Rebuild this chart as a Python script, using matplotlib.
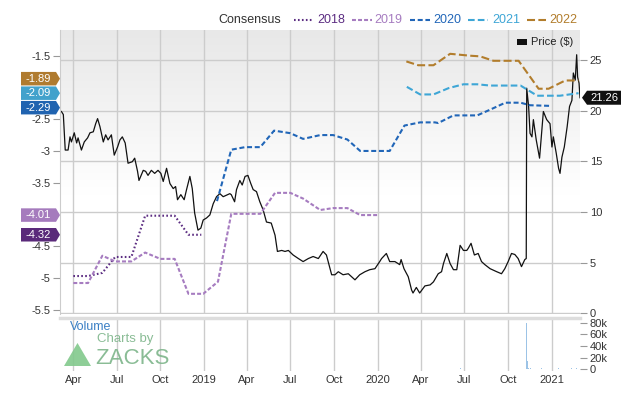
import matplotlib
matplotlib.use('Agg')
import matplotlib.pyplot as plt
from matplotlib.lines import Line2D
from matplotlib.patches import Polygon
import numpy as np
import pandas as pd

plt.rcParams['font.family'] = ['Liberation Sans', 'DejaVu Sans']

# ---- data ----
price_dates = [
    "2018-03-07", "2018-03-11", "2018-03-15", "2018-03-21", "2018-03-25", "2018-03-28", "2018-04-03", "2018-04-08",
    "2018-04-11", "2018-04-18", "2018-04-24", "2018-05-01", "2018-05-06", "2018-05-13", "2018-05-18", "2018-05-22",
    "2018-05-27", "2018-06-03", "2018-06-08", "2018-06-13", "2018-06-20", "2018-06-26", "2018-07-03", "2018-07-08",
    "2018-07-13", "2018-07-19", "2018-07-25", "2018-08-03", "2018-08-08", "2018-08-14", "2018-08-17", "2018-08-26",
    "2018-08-31", "2018-09-05", "2018-09-12", "2018-09-19", "2018-09-26", "2018-10-02", "2018-10-07", "2018-10-14",
    "2018-10-21", "2018-10-28", "2018-11-02", "2018-11-06", "2018-11-13", "2018-11-20", "2018-11-25", "2018-12-02",
    "2018-12-07", "2018-12-12", "2018-12-19", "2018-12-25", "2018-12-30", "2019-01-06", "2019-01-13", "2019-01-20",
    "2019-01-27", "2019-02-03", "2019-02-10", "2019-02-24", "2019-02-27", "2019-03-06", "2019-03-10", "2019-03-17",
    "2019-03-22", "2019-03-28", "2019-04-03", "2019-04-09", "2019-04-14", "2019-04-21", "2019-04-28", "2019-05-05",
    "2019-05-12", "2019-05-22", "2019-05-30", "2019-06-04", "2019-06-13", "2019-06-20", "2019-06-27", "2019-07-07",
    "2019-07-18", "2019-07-28", "2019-08-08", "2019-08-18", "2019-08-29", "2019-09-08", "2019-09-15", "2019-09-26",
    "2019-10-03", "2019-10-10", "2019-10-20", "2019-10-31", "2019-11-14", "2019-11-24", "2019-12-05", "2019-12-15",
    "2019-12-26", "2020-01-05", "2020-01-09", "2020-01-19", "2020-01-26", "2020-02-06", "2020-02-16", "2020-02-19",
    "2020-02-25", "2020-03-05", "2020-03-12", "2020-03-15", "2020-03-22", "2020-03-29", "2020-04-09", "2020-04-20",
    "2020-04-27", "2020-05-07", "2020-05-14", "2020-05-18", "2020-05-25", "2020-06-01", "2020-06-08", "2020-06-15",
    "2020-06-22", "2020-06-29", "2020-07-06", "2020-07-09", "2020-07-15", "2020-07-22", "2020-07-30", "2020-08-06",
    "2020-08-13", "2020-08-24", "2020-09-07", "2020-09-17", "2020-09-24", "2020-10-01", "2020-10-08", "2020-10-15",
    "2020-10-22", "2020-10-29", "2020-11-05", "2020-11-08", "2020-11-09", "2020-11-13", "2020-11-16", "2020-11-20",
    "2020-11-23", "2020-11-29", "2020-12-06", "2020-12-11", "2020-12-14", "2020-12-21", "2020-12-28", "2021-01-01",
    "2021-01-04", "2021-01-10", "2021-01-15", "2021-01-18", "2021-01-22", "2021-01-27", "2021-02-02", "2021-02-07",
    "2021-02-12", "2021-02-15", "2021-02-19", "2021-02-22", "2021-02-24", "2021-02-27", "2021-03-01",
]
price_vals = [
    19.9, 19.6, 16.1, 16.1, 17.4, 16.9, 17.8, 16.8,
    17.3, 16.1, 16.9, 17.3, 17.8, 17.9, 18.7, 19.2,
    18.4, 16.9, 17.6, 17.1, 17.6, 15.6, 16.4, 17.1,
    17.4, 16.8, 14.8, 14.95, 15.3, 14.0, 13.1, 14.1,
    14.0, 13.6, 14.1, 13.8, 14.1, 13.8, 13.0, 14.3,
    12.8, 12.3, 12.5, 11.2, 11.7, 11.2, 12.2, 13.5,
    12.3, 9.9, 8.2, 8.4, 9.2, 9.4, 9.7, 10.8,
    11.5, 11.8, 11.5, 11.8, 11.7, 11.0, 12.2, 13.1,
    12.65, 13.5, 13.6, 12.8, 12.2, 12.0, 11.0, 10.2,
    9.0, 8.9, 7.7, 6.1, 6.2, 6.1, 6.2, 5.75,
    5.4, 5.1, 5.4, 5.6, 5.4, 6.1, 5.75, 3.8,
    3.8, 4.1, 3.8, 3.9, 3.3, 3.8, 4.1, 4.3,
    4.4, 5.1, 5.4, 5.9, 5.1, 5.1, 4.8, 5.3,
    4.4, 3.6, 2.3, 2.0, 2.55, 2.0, 2.7, 2.8,
    3.1, 3.9, 4.1, 4.9, 5.9, 4.9, 4.3, 4.3,
    6.7, 6.2, 6.2, 6.4, 6.9, 5.75, 5.9, 5.1,
    4.8, 4.4, 4.1, 3.9, 4.4, 5.1, 5.9, 5.8,
    5.4, 4.6, 5.3, 5.4, 22.2, 20.4, 17.75, 17.4,
    19.1, 17.1, 15.3, 18.2, 19.9, 19.1, 18.7, 16.4,
    17.4, 15.8, 14.3, 13.8, 15.4, 16.4, 18.4, 20.4,
    21.0, 23.7, 23.0, 25.5, 23.3, 22.7, 21.26,
]

c2018_dates = ["2018-04-01", "2018-05-02", "2018-06-01", "2018-06-28", "2018-08-01", "2018-08-30",
               "2018-10-31", "2018-11-29", "2018-12-26"]
c2018_vals = [-4.97, -4.97, -4.92, -4.67, -4.67, -4.02, -4.02, -4.32, -4.32]

c2019_dates = ["2018-04-01", "2018-05-02", "2018-06-01", "2018-06-28", "2018-08-01", "2018-08-30",
               "2018-10-01", "2018-10-31", "2018-11-29", "2018-12-30", "2019-01-30", "2019-02-27",
               "2019-04-29", "2019-05-30", "2019-07-01", "2019-07-28", "2019-09-02", "2019-09-29",
               "2019-10-29", "2019-11-25", "2019-12-31"]
c2019_vals = [-5.08, -5.08, -4.65, -4.74, -4.74, -4.60, -4.70, -4.70, -5.25, -5.25, -5.06, -3.99,
              -3.99, -3.66, -3.66, -3.75, -3.93, -3.90, -3.90, -4.01, -4.01]

c2020_dates = ["2019-01-28", "2019-02-27", "2019-03-28", "2019-04-29", "2019-05-28", "2019-07-01",
               "2019-07-28", "2019-09-02", "2019-09-29", "2019-10-29", "2019-11-25", "2020-01-26",
               "2020-02-26", "2020-03-30", "2020-04-30", "2020-05-07", "2020-06-08", "2020-07-28",
               "2020-08-24", "2020-09-25", "2020-10-27", "2020-11-16", "2020-12-28"]
c2020_vals = [-3.79, -2.98, -2.94, -2.94, -2.68, -2.72, -2.81, -2.75, -2.75, -2.82, -3.00, -3.00,
              -2.60, -2.55, -2.55, -2.56, -2.44, -2.44, -2.35, -2.24, -2.24, -2.28, -2.29]

c2021_dates = ["2020-03-02", "2020-03-30", "2020-04-27", "2020-05-29", "2020-06-29", "2020-07-28",
               "2020-08-24", "2020-10-27", "2020-12-01", "2021-01-18", "2021-02-26"]
c2021_vals = [-1.99, -2.11, -2.11, -2.01, -1.95, -1.95, -1.97, -1.97, -2.13, -2.13, -2.09]

c2022_dates = ["2020-03-01", "2020-03-26", "2020-04-27", "2020-06-01", "2020-07-13", "2020-08-03",
               "2020-08-31", "2020-10-23", "2020-12-04", "2020-12-25", "2021-01-29", "2021-02-26"]
c2022_vals = [-1.59, -1.65, -1.65, -1.47, -1.50, -1.51, -1.58, -1.58, -2.02, -2.02, -1.89, -1.89]

vol_dates = ["2018-04-15", "2018-06-15", "2018-08-15", "2018-10-15", "2018-12-15", "2019-02-15",
             "2019-04-15", "2019-06-15", "2019-08-15", "2019-10-15", "2019-12-15", "2020-02-15",
             "2020-04-15", "2020-06-23", "2020-08-15", "2020-10-15", "2020-11-09", "2020-11-10",
             "2020-11-11", "2020-11-12", "2020-11-16", "2020-12-10", "2021-01-15", "2021-02-12",
             "2021-02-22"]
vol_vals = [600, 500, 400, 500, 700, 600, 500, 900, 600, 500, 600, 700,
            800, 2500, 900, 1000, 80000, 14000, 6000, 3000, 2500, 1500, 1500, 2500, 2000]

# -2 and -4 sit behind the value tags on the reference, so they are not labelled
eps_ticks = [-1.5, -2.5, -3, -3.5, -4.5, -5, -5.5]
price_ticks = [0, 5, 10, 15, 20, 25]
vol_ticks = [0, 20000, 40000, 60000, 80000]
vol_labels = ["0", "20k", "40k", "60k", "80k"]
quarters = pd.date_range("2018-04-01", "2021-01-01", freq="QS")

series = [
    ("2018", c2018_dates, c2018_vals, "#5c2d82", (0, (0.8, 1.1))),
    ("2019", c2019_dates, c2019_vals, "#a67cc0", (0, (1.9, 1.0))),
    ("2020", c2020_dates, c2020_vals, "#2166b8", (0, (2.4, 1.3))),
    ("2021", c2021_dates, c2021_vals, "#3ea6d6", (0, (3.2, 1.5))),
    ("2022", c2022_dates, c2022_vals, "#b27d2c", (0, (3.85, 1.6))),
]

W, H = 640, 405


def fx(px):
    return px / W


def fy(py):
    return 1 - py / H


fig = plt.figure(figsize=(6.4, 4.05), dpi=100)
fig.patch.set_facecolor("white")

ax = fig.add_axes([fx(60), fy(314), fx(580) - fx(60), fy(30) - fy(314)])
ax_v = fig.add_axes([fx(60), fy(371), fx(580) - fx(60), fy(318) - fy(371)], sharex=ax)

# background gradient: grey at the top, white from roughly the middle down
f = np.linspace(0, 1, 256).reshape(-1, 1)
grad = np.clip((f - 0.42) / 0.58, 0, 1)
ax.imshow(grad, cmap=matplotlib.colors.LinearSegmentedColormap.from_list("g", ["#ffffff", "#e8e8e8"]),
          extent=[0, 1, 0, 1], transform=ax.transAxes, aspect="auto", zorder=0, origin="lower",
          vmin=0, vmax=1)

xmin, xmax = pd.Timestamp("2018-03-04"), pd.Timestamp("2021-03-01")

# price
ax.plot(pd.to_datetime(price_dates), price_vals, color="#111111", lw=0.9, zorder=3)
ax.set_ylim(-0.07, 27.94)
ax.set_xlim(xmin, xmax)
ax.set_xticks(quarters)
ax.grid(True, color="#cccccc", lw=1, zorder=1)
ax.set_axisbelow(True)
for s in ax.spines.values():
    s.set_visible(False)

# consensus (left axis)
ax_e = ax.twinx()
ax_e.yaxis.tick_left()
ax_e.set_ylim(-5.568, -1.095)
ax_e.set_yticks(eps_ticks)
ax_e.set_yticklabels([f"{t:g}" for t in eps_ticks])
ax_e.tick_params(axis="y", length=5, width=0.8, color="#999999", pad=2, labelsize=8, labelcolor="#333333")
for s in ax_e.spines.values():
    s.set_visible(False)
ax_e.spines["left"].set_visible(True)
ax_e.spines["left"].set_color("#cccccc")
for name, d, v, col, ls in series:
    ax_e.plot(pd.to_datetime(d), v, color=col, lw=1.5, linestyle=ls, zorder=4)
ax_e.set_xlim(xmin, xmax)

# price axis on the right (after twinx, which moves it)
ax.yaxis.tick_right()
ax.set_yticks(price_ticks)
ax.set_yticklabels([str(t) for t in price_ticks])
ax.tick_params(axis="y", which="both", left=False, labelleft=False, right=True, labelright=True,
               length=5, width=0.8, color="#999999", pad=2, labelsize=8, labelcolor="#333333")
ax.tick_params(axis="x", length=0, labelbottom=False)

# volume
ax_v.bar(pd.to_datetime(vol_dates), vol_vals, width=2.0, color="#9cc3e6", zorder=2)
ax_v.set_ylim(-2900, 88000)
ax_v.set_xlim(xmin, xmax)
ax_v.yaxis.tick_right()
ax_v.set_yticks(vol_ticks)
ax_v.set_yticklabels(vol_labels)
ax_v.tick_params(axis="y", length=5, width=0.8, color="#999999", pad=2, labelsize=8, labelcolor="#333333")
ax_v.set_xticks(quarters)
ax_v.set_xticklabels([str(q.year) if q.month == 1 else q.strftime("%b") for q in quarters])
ax_v.tick_params(axis="x", length=0, pad=3, labelsize=8, labelcolor="#333333")
ax_v.grid(True, axis="x", color="#cccccc", lw=1)
ax_v.set_axisbelow(True)
for s in ax_v.spines.values():
    s.set_visible(False)
ax_v.spines["top"].set_visible(True)
ax_v.spines["top"].set_color("#dddddd")
ax_v.spines["top"].set_linewidth(2.5)

fig.text(fx(70), fy(327), "Volume", color="#3a7fc4", fontsize=9, va="center")
fig.text(fx(97), fy(339), "Charts by", color="#7db58a", fontsize=9.5, va="center", alpha=0.9)
fig.text(fx(95), fy(358), "ZACKS", color="#7db58a", fontsize=16, va="center", alpha=0.9)
fig.add_artist(Polygon([(fx(64), fy(366)), (fx(91), fy(366)), (fx(77.5), fy(343))], closed=True,
                       transform=fig.transFigure, facecolor="#82c98c", edgecolor="none", alpha=0.9))

# legend on top
fig.text(fx(218), fy(20), "Consensus", color="#333333", fontsize=9, va="center")
leg_pos = [(294, 313, 317), (352, 372, 374), (410, 430, 433), (468, 488, 492), (527, 546, 549)]
for (name, d, v, col, ls), (x0, x1, xt) in zip(series, leg_pos):
    fig.add_artist(Line2D([fx(x0), fx(x1)], [fy(20), fy(20)], transform=fig.transFigure,
                          color=col, lw=1.5, linestyle=ls))
    fig.text(fx(xt), fy(20), name, color=col, fontsize=9, va="center")

# price legend inside plot
fig.add_artist(Polygon([(fx(517), fy(39)), (fx(527), fy(39)), (fx(527), fy(45)), (fx(517), fy(45))],
                       closed=True, transform=fig.transFigure, facecolor="#111111", edgecolor="none"))
fig.text(fx(531), fy(42), "Price ($)", color="#222222", fontsize=8, va="center")

# value tags
fig.canvas.draw()


def eps_px(val):
    return H - ax_e.transData.transform((0, val))[1]


tags = [(-4.32, "#5a2a7a"), (-4.01, "#a57bbd"), (-2.29, "#2063b0"), (-2.09, "#42a2cc"), (-1.89, "#b07b2f")]
ys = [eps_px(v) for v, c in tags]
gap = 14.5
for _ in range(20):
    for i in range(len(ys) - 1):
        d = ys[i] - ys[i + 1]
        if d < gap:
            push = (gap - d) / 2
            ys[i] += push
            ys[i + 1] -= push
for (v, c), yp in zip(tags, ys):
    hh = 6.75
    fig.add_artist(Polygon([(fx(21), fy(yp - hh)), (fx(56), fy(yp - hh)), (fx(60), fy(yp)),
                            (fx(56), fy(yp + hh)), (fx(21), fy(yp + hh))], closed=True,
                           transform=fig.transFigure, facecolor=c, edgecolor="none", zorder=10))
    fig.text(fx(38.5), fy(yp), f"{v:.2f}", color="white", fontsize=8, ha="center", va="center", zorder=11)

last_price = price_vals[-1]
yp = H - ax.transData.transform((0, last_price))[1]
hh = 7
fig.add_artist(Polygon([(fx(582), fy(yp)), (fx(587), fy(yp - hh)), (fx(621), fy(yp - hh)),
                        (fx(621), fy(yp + hh)), (fx(587), fy(yp + hh))], closed=True,
                       transform=fig.transFigure, facecolor="#111111", edgecolor="none", zorder=10))
fig.text(fx(604), fy(yp), f"{last_price:.2f}", color="white", fontsize=8, ha="center", va="center", zorder=11)

fig.savefig("out.png", dpi=100, facecolor="white")
